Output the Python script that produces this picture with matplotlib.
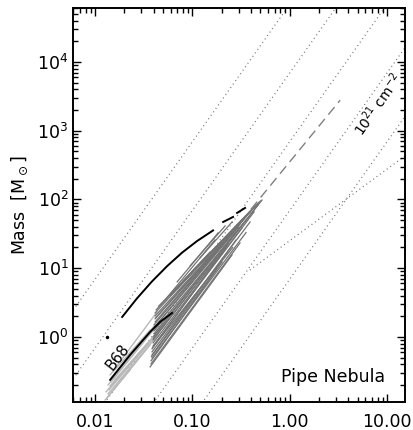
import matplotlib
matplotlib.use("Agg")
import matplotlib.pyplot as plt
from matplotlib.ticker import LogLocator, FixedLocator, FixedFormatter, NullFormatter
import numpy as np

plt.rcParams['font.family'] = ['DejaVu Sans']
plt.rcParams['mathtext.fontset'] = 'dejavusans'

# ---- reference lines of constant column density (cm^-2) ----
column_densities = [1e20, 1e21, 1e22, 1e23, 1e24]
mass_1pc_at_1e21 = 69.0          # Msun inside R = 1 pc for N = 1e21 cm^-2

# shallow reference relation (M roughly proportional to R)
ref_r = [0.39, 15.3]
ref_m = [9.4, 430.0]

# ---- B68 ----
b68_r = [0.0143, 0.0229, 0.0368, 0.0466, 0.0618]
b68_m = [0.237, 0.547, 1.18, 1.65, 2.23]

# ---- black core curve ----
core_r = [0.0190, 0.0270, 0.0385, 0.0550, 0.0783, 0.1117, 0.1632]
core_m = [1.95, 3.64, 6.42, 10.7, 16.8, 24.8, 35.4]
core_seg_r0 = [0.207, 0.288]
core_seg_m0 = [47.0, 63.6]
core_seg_r1 = [0.262, 0.348]
core_seg_m1 = [55.6, 75.2]
core_dot_r = [0.0133]
core_dot_m = [1.0]

# ---- Pipe cores, dark gray ----
dark_r0 = [0.0368, 0.0376, 0.0376, 0.0385, 0.0385, 0.0385, 0.0385, 0.0395,
           0.0395, 0.0395, 0.0395, 0.0404, 0.0404, 0.0404, 0.0404, 0.0414,
           0.0414, 0.0414, 0.0414, 0.0424, 0.0524, 0.0697, 0.0948, 0.120,
           0.0380, 0.0390, 0.0400, 0.0410, 0.0420, 0.0450, 0.0600, 0.0800,
           0.0700, 0.1000]
dark_m0 = [0.366, 0.405, 0.448, 0.495, 0.547, 0.605, 0.669, 0.740,
           0.818, 0.905, 1.00, 1.11, 1.22, 1.35, 1.50, 1.65,
           1.83, 2.02, 2.23, 2.47, 3.45, 6.31, 10.8, 14.1,
           0.52, 0.70, 0.95, 1.4, 1.9, 2.8, 4.0, 6.5,
           5.0, 9.0]
dark_r1 = [0.256, 0.309, 0.202, 0.356, 0.281, 0.392, 0.233, 0.431,
           0.324, 0.473, 0.281, 0.520, 0.356, 0.392, 0.244, 0.452,
           0.309, 0.202, 0.171, 0.152, 0.171, 0.184, 0.217, 0.256,
           0.180, 0.260, 0.220, 0.300, 0.250, 0.200, 0.330, 0.420,
           0.480, 0.500]
dark_m1 = [15.6, 23.3, 12.3, 33.0, 25.8, 47.0, 22.5, 66.0,
           38.5, 83.0, 33.7, 98.0, 50.0, 66.0, 29.5, 83.0,
           44.0, 23.3, 19.7, 17.2, 25.8, 32.6, 41.2, 47.1,
           10.0, 20.0, 20.0, 40.0, 33.0, 24.0, 52.0, 75.0,
           90.0, 95.0]

# long extension of the largest structure
ext_r = [0.40, 3.3]
ext_m = [72.0, 2780.0]

# ---- Pipe cores, light gray ----
light_r0 = [0.0133, 0.0136, 0.0139, 0.0143, 0.0146, 0.0150, 0.0130, 0.0136,
            0.0143, 0.0153, 0.0161, 0.0127]
light_m0 = [0.130, 0.148, 0.170, 0.194, 0.220, 0.253, 0.159, 0.200,
            0.280, 0.310, 0.237, 0.121]
light_r1 = [0.0368, 0.0444, 0.0524, 0.0590, 0.0466, 0.0414, 0.0290, 0.0350,
            0.0434, 0.0368, 0.0664, 0.0229]
light_m1 = [0.765, 1.07, 1.50, 1.89, 1.65, 1.50, 0.605, 1.07,
            2.31, 1.26, 2.31, 0.331]

xlim = (0.00598, 15.3)
ylim = (0.114, 6.1e4)

fig = plt.figure(figsize=(4.13, 4.30), dpi=100)
ax = fig.add_axes([0.1775, 0.0658, 0.8031, 0.9156])
ax.set_xscale('log')
ax.set_yscale('log')
ax.set_xlim(*xlim)
ax.set_ylim(*ylim)

# column density lines
rr = np.logspace(np.log10(xlim[0]), np.log10(xlim[1]), 200)
dotted = dict(color='0.45', lw=0.9, ls=(0, (0.8, 2.6)), zorder=1)
for n in column_densities:
    ax.plot(rr, mass_1pc_at_1e21 * (n / 1e21) * rr**2, **dotted)
ax.plot(ref_r, ref_m, **dotted)

# cores
for r0, m0, r1, m1 in zip(light_r0, light_m0, light_r1, light_m1):
    ax.plot([r0, r1], [m0, m1], color='0.72', lw=1.0, zorder=2)
for r0, m0, r1, m1 in zip(dark_r0, dark_m0, dark_r1, dark_m1):
    ax.plot([r0, r1], [m0, m1], color='0.45', lw=0.9, zorder=3)
ax.plot(ext_r, ext_m, color='0.5', lw=1.0, ls=(0, (7, 4)), zorder=3)

ax.plot(b68_r, b68_m, color='black', lw=1.4, zorder=4)
ax.plot(core_r, core_m, color='black', lw=1.4, zorder=4)
for r0, m0, r1, m1 in zip(core_seg_r0, core_seg_m0, core_seg_r1, core_seg_m1):
    ax.plot([r0, r1], [m0, m1], color='black', lw=1.4, zorder=4)
ax.plot(core_dot_r, core_dot_m, 'o', color='black', ms=1.5, zorder=4)

# labels
ax.text(0.0172, 0.51, 'B68', rotation=52, ha='center', va='center',
        fontsize=10.5, zorder=5)
ax.text(8.1, 2450, r'10$^{21}$ cm$^{-2}$', rotation=55, ha='center',
        va='center', fontsize=10)
ax.text(0.94, 0.04, 'Pipe Nebula', transform=ax.transAxes, ha='right',
        va='bottom', fontsize=12.5)

ax.set_ylabel(r'Mass  [M$_\odot$]', fontsize=12.5, labelpad=5)

# ticks
ax.xaxis.set_major_locator(FixedLocator([0.01, 0.1, 1.0, 10.0]))
ax.xaxis.set_major_formatter(FixedFormatter(['0.01', '0.10', '1.00', '10.00']))
ax.xaxis.set_minor_locator(LogLocator(base=10, subs=np.arange(2, 10)))
ax.xaxis.set_minor_formatter(NullFormatter())
ax.yaxis.set_major_locator(LogLocator(base=10, numticks=10))
ax.yaxis.set_minor_locator(LogLocator(base=10, subs=np.arange(2, 10), numticks=10))
ax.yaxis.set_minor_formatter(NullFormatter())
ax.tick_params(which='both', direction='in', top=True, right=True,
               labelsize=12.5, width=1.0)
ax.tick_params(which='major', length=6)
ax.tick_params(which='minor', length=3.5)
ax.tick_params(axis='x', pad=8)
for s in ax.spines.values():
    s.set_linewidth(1.4)

fig.savefig('out.png', dpi=100)
